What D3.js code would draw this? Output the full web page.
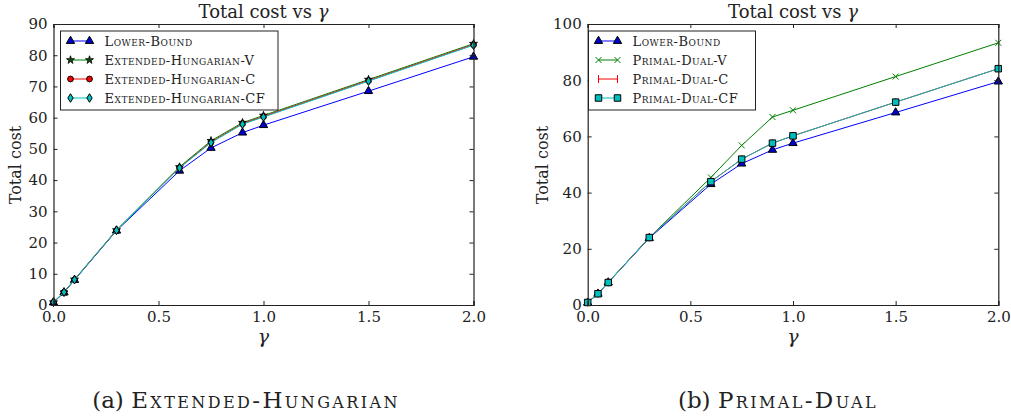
<!DOCTYPE html>
<html>
<head>
<meta charset="utf-8">
<script src="https://d3js.org/d3.v7.min.js"></script>
<style>
  body { margin: 0; padding: 0; background: #fff; }
  text { font-family: "DejaVu Serif", "Liberation Serif", serif; fill: #222; }
  .tick text { font-size: 15px; }
  .legend text { font-size: 13px; font-variant: small-caps; letter-spacing: 0.5px; }
</style>
</head>
<body>
<script>
// x values (gamma) shared by every series
var gamma = [0, 0.05, 0.1, 0.3, 0.6, 0.75, 0.9, 1.0, 1.5, 2.0];

var lowerBound = [0.8, 4.0, 8.0, 23.8, 43.0, 50.3, 55.2, 57.6, 68.5, 79.5];

// (a) Extended-Hungarian
var ehV  = [0.9, 4.1, 8.2, 24.0, 44.2, 52.6, 58.4, 60.7, 72.2, 83.7];
var ehC  = [0.9, 4.1, 8.1, 23.9, 44.0, 52.2, 58.1, 60.4, 71.9, 83.4];
var ehCF = [0.9, 4.1, 8.1, 23.9, 43.9, 52.0, 57.9, 60.2, 71.7, 83.2];

// (b) Primal-Dual
var pdV  = [0.9, 4.0, 8.1, 24.0, 45.4, 56.8, 66.9, 69.3, 81.3, 93.3];
var pdC  = [0.9, 4.0, 8.0, 24.0, 43.9, 51.9, 57.6, 60.2, 72.2, 84.1];
var pdCF = [0.9, 4.0, 8.0, 24.0, 43.9, 51.9, 57.6, 60.2, 72.2, 84.1];

var xTicks = [0, 0.5, 1.0, 1.5, 2.0];
var yTicksA = [0, 10, 20, 30, 40, 50, 60, 70, 80, 90];
var yTicksB = [0, 20, 40, 60, 80, 100];

var W = 1011, H = 420;
var svg = d3.select("body").append("svg")
    .attr("width", W).attr("height", H);
svg.append("rect").attr("width", W).attr("height", H).attr("fill", "#fff");

// thin diamond like matplotlib 'd'
function thinDiamond(size) {
  var h = size, w = size * 0.62;
  return "M0," + (-h) + "L" + w + ",0L0," + h + "L" + (-w) + ",0Z";
}
function markerPath(kind) {
  switch (kind) {
    case "tri": return d3.symbol(d3.symbolTriangle, 30)();
    case "star": return d3.symbol(d3.symbolStar, 20)();
    case "circle": return d3.symbol(d3.symbolCircle, 26)();
    case "diamond": return thinDiamond(4.3);
    case "square": return d3.symbol(d3.symbolSquare, 42)();
    case "x": return "M-3,-3L3,3M-3,3L3,-3";
    case "vline": return "M0,-4L0,4";
  }
}

function panel(opt) {
  var g = svg.append("g");
  var x = d3.scaleLinear().domain([0, 2]).range([opt.x0, opt.x1]);
  var y = d3.scaleLinear().domain([0, opt.yMax]).range([305, 24]);

  // series
  opt.series.forEach(function(s) {
    var pts = gamma.map(function(gv, i) { return [gv, s.values[i]]; });
    g.append("path")
      .attr("d", d3.line().x(function(d) { return x(d[0]); }).y(function(d) { return y(d[1]); })(pts))
      .attr("fill", "none").attr("stroke", s.color).attr("stroke-width", 1);
    g.selectAll(null).data(pts).enter().append("path")
      .attr("d", markerPath(s.marker))
      .attr("transform", function(d) { return "translate(" + x(d[0]) + "," + y(d[1]) + ")"; })
      .attr("fill", s.fill)
      .attr("stroke", s.edge)
      .attr("stroke-width", s.edgeW || 1);
  });

  // axes, ticks pointing inward on all four sides
  g.append("g").attr("transform", "translate(0,305)")
    .call(d3.axisBottom(x).tickValues(xTicks).tickSize(-4).tickPadding(6).tickFormat(d3.format(".1f")));
  g.append("g").attr("transform", "translate(0,24)")
    .call(d3.axisTop(x).tickValues(xTicks).tickSize(-4).tickFormat(""));
  g.append("g").attr("transform", "translate(" + opt.x0 + ",0)")
    .call(d3.axisLeft(y).tickValues(opt.yTicks).tickSize(-4).tickPadding(6));
  g.append("g").attr("transform", "translate(" + opt.x1 + ",0)")
    .call(d3.axisRight(y).tickValues(opt.yTicks).tickSize(-4).tickFormat(""));
  g.selectAll(".domain").attr("stroke", "#222").attr("stroke-width", 1.2);
  g.selectAll(".tick line").attr("stroke", "#222");
  g.selectAll(".tick text").attr("fill", "#222");

  // titles
  var cx = (opt.x0 + opt.x1) / 2;
  var title = g.append("text").attr("x", cx).attr("y", 18).attr("text-anchor", "middle")
    .style("font-size", "18px");
  title.append("tspan").text("Total cost vs ");
  title.append("tspan").style("font-style", "italic").text("γ");
  g.append("text").attr("x", cx).attr("y", 343).attr("text-anchor", "middle")
    .style("font-size", "19px").style("font-style", "italic").text("γ");
  g.append("text")
    .attr("transform", "translate(" + opt.yLabelX + ",165)rotate(-90)")
    .attr("text-anchor", "middle").style("font-size", "16px").text("Total cost");

  // caption
  var cap = g.append("text").attr("x", opt.capX).attr("y", 408).attr("text-anchor", "middle")
    .style("font-size", "23px");
  cap.append("tspan").text(opt.capTag + " ");
  cap.append("tspan").style("font-variant", "small-caps").style("letter-spacing", "2.4px").text(opt.caption);

  // legend
  var lg = g.append("g").attr("class", "legend");
  lg.append("rect").attr("x", opt.lx).attr("y", 31).attr("width", opt.lw).attr("height", 79)
    .attr("fill", "#fff").attr("stroke", "#222").attr("stroke-width", 1);
  opt.series.forEach(function(s, i) {
    var yy = 41 + i * 19;
    var a = opt.lx + 10, b = opt.lx + 29;
    lg.append("line").attr("x1", a).attr("x2", b).attr("y1", yy).attr("y2", yy)
      .attr("stroke", s.color).attr("stroke-width", 1);
    [a, b].forEach(function(px) {
      lg.append("path").attr("d", markerPath(s.marker))
        .attr("transform", "translate(" + px + "," + yy + ")")
        .attr("fill", s.fill).attr("stroke", s.edge).attr("stroke-width", s.edgeW || 1);
    });
    lg.append("text").attr("x", opt.lx + 44).attr("y", yy + 4.5).text(s.name);
  });
}

panel({
  x0: 53.5, x1: 473.5, yMax: 90, yTicks: yTicksA, yLabelX: 21,
  lx: 60.5, lw: 217.5, capX: 246, capTag: "(a)", caption: "Extended-Hungarian",
  series: [
    { name: "Lower-Bound", values: lowerBound, color: "#0000ff", marker: "tri", fill: "#0000cc", edge: "#000" },
    { name: "Extended-Hungarian-V", values: ehV, color: "#008000", marker: "star", fill: "#0a4a0a", edge: "#000", edgeW: 0.8 },
    { name: "Extended-Hungarian-C", values: ehC, color: "#ff0000", marker: "circle", fill: "#ff0000", edge: "#000" },
    { name: "Extended-Hungarian-CF", values: ehCF, color: "#00bfbf", marker: "diamond", fill: "#00bfbf", edge: "#000" }
  ]
});

panel({
  x0: 587.7, x1: 998.3, yMax: 100, yTicks: yTicksB, yLabelX: 548,
  lx: 588.5, lw: 167, capX: 778, capTag: "(b)", caption: "Primal-Dual",
  series: [
    { name: "Lower-Bound", values: lowerBound, color: "#0000ff", marker: "tri", fill: "#0000cc", edge: "#000" },
    { name: "Primal-Dual-V", values: pdV, color: "#008000", marker: "x", fill: "none", edge: "#008000" },
    { name: "Primal-Dual-C", values: pdC, color: "#ff0000", marker: "vline", fill: "none", edge: "#ff0000" },
    { name: "Primal-Dual-CF", values: pdCF, color: "#00bfbf", marker: "square", fill: "#00bfbf", edge: "#000" }
  ]
});
</script>
</body>
</html>
